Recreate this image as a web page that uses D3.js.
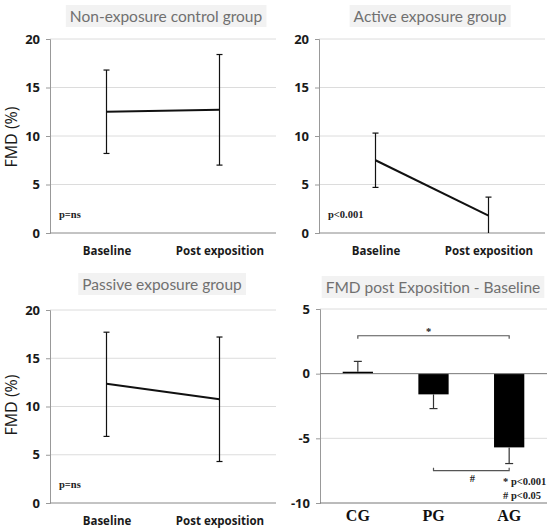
<!DOCTYPE html>
<html>
  <head>
    <meta charset="utf-8">
    <script src="https://cdn.jsdelivr.net/npm/d3@7"></script>
    <style>
      body { margin: 0; background: #fff; }
      svg { display: block; }
    </style>
  </head>
  <body>
    <script>

      // data
      var timepoints = ["Baseline", "Post exposition"];

      var cgMean = [12.5, 12.7];
      var cgUpper = [16.8, 18.4];
      var cgLower = [8.2, 7.0];

      var agMean = [7.5, 1.8];
      var agUpper = [10.3, 3.7];
      var agLower = [4.7, 0];

      var pgMean = [12.35, 10.75];
      var pgUpper = [17.7, 17.2];
      var pgLower = [6.9, 4.3];

      var diffGroups = ["CG", "PG", "AG"];
      var diffValues = [0.15, -1.6, -5.7];
      var diffErr = [0.95, -2.7, -6.95];

      var lineTicks = [0, 5, 10, 15, 20];
      var diffTicks = [5, 0, -5, -10];

      var W = 552, H = 529;

      var svg = d3.select("body")
        .append("svg")
        .attr("width", W)
        .attr("height", H);

      // plain hyphen for negatives, like the original
      var plain = function(d) { return String(d); };

      // gray title box on top of each panel
      function title(cx, cy, txt) {
        var g = svg.append("g");
        var t = g.append("text")
          .attr("x", cx)
          .attr("y", cy)
          .attr("text-anchor", "middle")
          .attr("dominant-baseline", "central")
          .style("font-family", "Lato, 'Open Sans', sans-serif")
          .style("font-size", "15.5px")
          .style("fill", "#707070")
          .text(txt);
        var bb = t.node().getBBox();
        g.insert("rect", "text")
          .attr("x", bb.x - 4)
          .attr("y", cy - 11)
          .attr("width", bb.width + 8)
          .attr("height", 22)
          .attr("fill", "#f2f2f2");
      }

      function yLabel(x, y) {
        svg.append("text")
          .attr("transform", "translate(" + x + "," + y + ") rotate(-90)")
          .attr("text-anchor", "middle")
          .attr("dominant-baseline", "central")
          .style("font-family", "'Open Sans', sans-serif")
          .style("font-size", "16px")
          .style("fill", "#1a1a1a")
          .text("FMD (%)");
      }

      function serifNote(x, y, txt, anchor) {
        svg.append("text")
          .attr("x", x)
          .attr("y", y)
          .attr("text-anchor", anchor || "start")
          .style("font-family", "'Liberation Serif', serif")
          .style("font-weight", "bold")
          .style("font-size", "10.5px")
          .style("fill", "#222")
          .text(txt);
      }

      function styleTicks(sel) {
        sel.selectAll("text")
          .style("font-family", "'Open Sans', sans-serif")
          .style("font-weight", "bold")
          .style("font-size", "13px")
          .attr("fill", "#1a1a1a");
      }

      // line panel with error bars
      function linePanel(x0, x1, y0, y1, mean, upper, lower, note) {
        var x = d3.scalePoint().domain(timepoints).range([x0, x1]).padding(0.5);
        var y = d3.scaleLinear().domain([0, 20]).range([y0, y1]);
        var g = svg.append("g");

        // gridlines
        g.selectAll(".grid")
          .data(lineTicks.filter(function(d) { return d > 0; }))
          .enter().append("line")
          .attr("x1", x0).attr("x2", x1)
          .attr("y1", function(d) { return y(d); })
          .attr("y2", function(d) { return y(d); })
          .attr("stroke", "#dcdcdc");

        // y axis
        var ya = g.append("g")
          .attr("transform", "translate(" + x0 + ",0)")
          .call(d3.axisLeft(y).tickValues(lineTicks).tickFormat(plain).tickSize(4).tickPadding(6));
        ya.select(".domain").attr("stroke", "#999");
        ya.selectAll(".tick line").attr("stroke", "#999");
        styleTicks(ya);

        // x axis
        var xa = g.append("g")
          .attr("transform", "translate(0," + y0 + ")")
          .call(d3.axisBottom(x).tickSize(0).tickPadding(14));
        xa.select(".domain").attr("stroke", "#888").attr("d", "M" + x0 + ",0H" + x1);
        xa.selectAll("text")
          .style("font-family", "'Open Sans', sans-serif")
          .style("font-weight", "bold")
          .style("font-size", "11.5px")
          .attr("fill", "#1a1a1a");

        // error bars
        timepoints.forEach(function(t, i) {
          var cx = x(t);
          g.append("line")
            .attr("x1", cx).attr("x2", cx)
            .attr("y1", y(upper[i])).attr("y2", y(lower[i]))
            .attr("stroke", "#111").attr("stroke-width", 1.2);
          [upper[i], lower[i]].forEach(function(v) {
            if (v <= 0) return;
            g.append("line")
              .attr("x1", cx - 3).attr("x2", cx + 3)
              .attr("y1", y(v)).attr("y2", y(v))
              .attr("stroke", "#111").attr("stroke-width", 1.2);
          });
        });

        // mean line
        g.append("path")
          .datum(mean)
          .attr("d", d3.line()
            .x(function(d, i) { return x(timepoints[i]); })
            .y(function(d) { return y(d); }))
          .attr("fill", "none")
          .attr("stroke", "#111")
          .attr("stroke-width", 2);

        serifNote(x0 + 9, y0 - 15, note);
      }

      title(166, 16, "Non-exposure control group");
      yLabel(11, 137);
      linePanel(50, 276, 233, 39, cgMean, cgUpper, cgLower, "p=ns");

      title(430, 16, "Active exposure group");
      linePanel(319, 545, 233, 39, agMean, agUpper, agLower, "p<0.001");

      title(162, 284, "Passive exposure group");
      yLabel(11, 405);
      linePanel(50, 276, 503, 310, pgMean, pgUpper, pgLower, "p=ns");

      // difference bar panel
      title(433, 287, "FMD post Exposition - Baseline");

      var bx = d3.scaleBand().domain(diffGroups).range([320, 547])
        .paddingInner(0.6).paddingOuter(0.3);
      var by = d3.scaleLinear().domain([-10, 5]).range([503, 309]);
      var bg = svg.append("g");

      bg.selectAll(".grid")
        .data([5, -5])
        .enter().append("line")
        .attr("x1", 320).attr("x2", 547)
        .attr("y1", function(d) { return by(d); })
        .attr("y2", function(d) { return by(d); })
        .attr("stroke", "#dcdcdc");

      var bya = bg.append("g")
        .attr("transform", "translate(320,0)")
        .call(d3.axisLeft(by).tickValues(diffTicks).tickFormat(plain).tickSize(4).tickPadding(6));
      bya.select(".domain").attr("stroke", "#999");
      bya.selectAll(".tick line").attr("stroke", "#999");
      styleTicks(bya);

      // bottom axis line and category labels
      var bxa = bg.append("g")
        .attr("transform", "translate(0," + by(-10) + ")")
        .call(d3.axisBottom(bx).tickSize(0).tickPadding(7));
      bxa.select(".domain").attr("stroke", "#777").attr("d", "M320,0H547");
      bxa.selectAll("text")
        .style("font-family", "'Liberation Serif', serif")
        .style("font-weight", "bold")
        .style("font-size", "16px")
        .attr("fill", "#111");

      // bars
      bg.selectAll(".bar")
        .data(diffValues)
        .enter().append("rect")
        .attr("x", function(d, i) { return bx(diffGroups[i]); })
        .attr("width", bx.bandwidth())
        .attr("y", function(d) { return by(Math.max(0, d)); })
        .attr("height", function(d) { return Math.max(2, Math.abs(by(d) - by(0))); })
        .attr("fill", "#000");

      // zero line
      bg.append("line")
        .attr("x1", 320).attr("x2", 547)
        .attr("y1", by(0)).attr("y2", by(0))
        .attr("stroke", "#777");

      // one-sided error bars
      diffErr.forEach(function(e, i) {
        var cx = bx(diffGroups[i]) + bx.bandwidth() / 2;
        bg.append("line")
          .attr("x1", cx).attr("x2", cx)
          .attr("y1", by(diffValues[i])).attr("y2", by(e))
          .attr("stroke", "#333").attr("stroke-width", 1.2);
        bg.append("line")
          .attr("x1", cx - 4).attr("x2", cx + 4)
          .attr("y1", by(e)).attr("y2", by(e))
          .attr("stroke", "#333").attr("stroke-width", 1.2);
      });

      // significance brackets
      function bracket(a, b, yv, dir, mark, dx, dy) {
        var xa = bx(a) + bx.bandwidth() / 2;
        var xb = bx(b) + bx.bandwidth() / 2;
        var yy = by(yv);
        bg.append("path")
          .attr("d", "M" + xa + "," + (yy + dir * 3) + "V" + yy + "H" + xb + "V" + (yy + dir * 3))
          .attr("fill", "none")
          .attr("stroke", "#555")
          .attr("stroke-width", 1.2);
        serifNote((xa + xb) / 2 + dx, yy + dy, mark, "middle");
      }
      bracket("CG", "AG", 2.93, 1, "*", -5, -1);
      bracket("PG", "AG", -7.5, -1, "#", 1, 11);

      serifNote(503, 485, "* p<0.001");
      serifNote(503, 499, "# p<0.05");

    </script>
  </body>
</html>
